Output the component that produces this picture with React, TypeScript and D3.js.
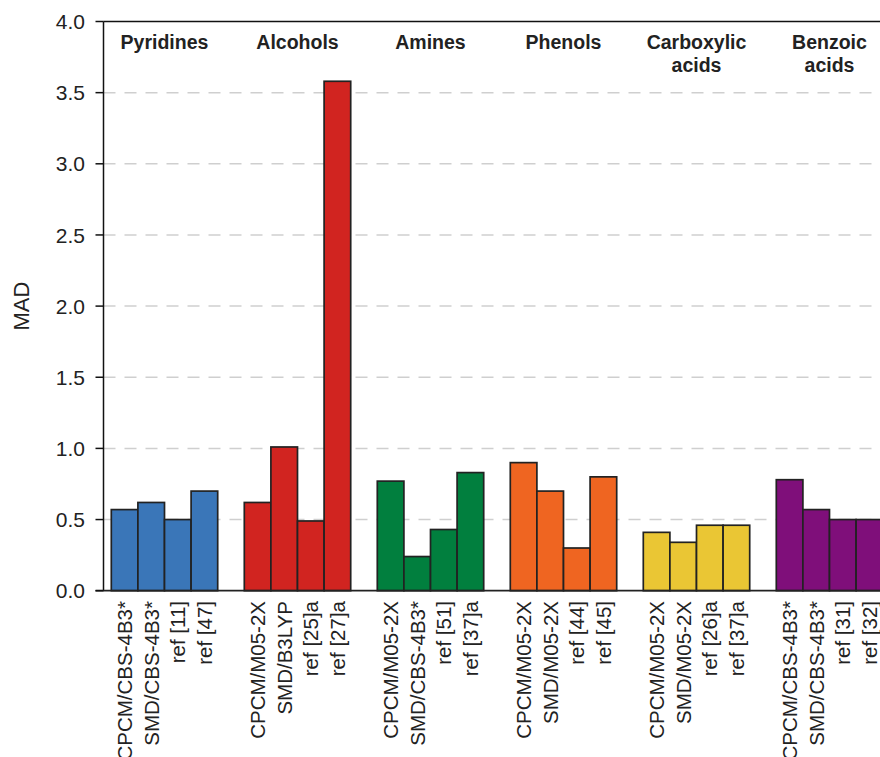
import React from "react";
import * as d3 from "d3";

const groupHeaders: string[][] = [
  ["Pyridines"],
  ["Alcohols"],
  ["Amines"],
  ["Phenols"],
  ["Carboxylic", "acids"],
  ["Benzoic", "acids"],
];

const methodLabels: string[][] = [
  ["CPCM/CBS-4B3*", "SMD/CBS-4B3*", "ref [11]", "ref [47]"],
  ["CPCM/M05-2X", "SMD/B3LYP", "ref [25]a", "ref [27]a"],
  ["CPCM/M05-2X", "SMD/CBS-4B3*", "ref [51]", "ref [37]a"],
  ["CPCM/M05-2X", "SMD/M05-2X", "ref [44]", "ref [45]"],
  ["CPCM/M05-2X", "SMD/M05-2X", "ref [26]a", "ref [37]a"],
  ["CPCM/CBS-4B3*", "SMD/CBS-4B3*", "ref [31]", "ref [32]"],
];

const madValues: number[][] = [
  [0.57, 0.62, 0.5, 0.7],
  [0.62, 1.01, 0.49, 3.58],
  [0.77, 0.24, 0.43, 0.83],
  [0.9, 0.7, 0.3, 0.8],
  [0.41, 0.34, 0.46, 0.46],
  [0.78, 0.57, 0.5, 0.5],
];

const groupColors = ["#3a76b8", "#d12420", "#017f3e", "#ef6521", "#eac634", "#7f0f7a"];

const yTicks = [0, 0.5, 1, 1.5, 2, 2.5, 3, 3.5, 4];

const W = 880;
const H = 757;
const axisX = 103.5;
const yTop = 21.5;
const yBottom = 590.7;
const firstBarX = 111.3;
const unit = 26.6;
const FONT = "'Liberation Sans', Arial, Helvetica, sans-serif";

export default function App() {
  const y = d3.scaleLinear().domain([0, 4]).range([yBottom, yTop]);
  const x = d3
    .scaleLinear()
    .domain([0, 1])
    .range([firstBarX, firstBarX + unit]);

  const bars: { x0: number; x1: number; v: number; color: string; label: string; key: string }[] = [];
  groupHeaders.forEach((_, g) => {
    madValues[g].forEach((v, j) => {
      const slot = g * 5 + j;
      bars.push({
        x0: x(slot),
        x1: x(slot + 1),
        v,
        color: groupColors[g],
        label: methodLabels[g][j],
        key: `${g}-${j}`,
      });
    });
  });

  return (
    <>
      <style>{`body{margin:0}`}</style>
      <svg width={W} height={H} style={{ display: "block", fontFamily: FONT }}>
        <rect x={0} y={0} width={W} height={H} fill="#fff" />
        {yTicks
          .filter((t) => t > 0 && t < 4)
          .map((t) => (
            <line
              key={`g${t}`}
              x1={axisX}
              x2={W}
              y1={y(t)}
              y2={y(t)}
              stroke="#cfcfcf"
              strokeWidth={1.5}
              strokeDasharray="12,9"
            />
          ))}
        {bars.map((b) => (
          <rect
            key={b.key}
            x={b.x0}
            y={y(b.v)}
            width={b.x1 - b.x0}
            height={y(0) - y(b.v)}
            fill={b.color}
            stroke="#222"
            strokeWidth={1.7}
          />
        ))}
        <line x1={axisX} x2={axisX} y1={yTop} y2={yBottom} stroke="#111" strokeWidth={1.5} />
        <line x1={axisX} x2={W} y1={yTop} y2={yTop} stroke="#111" strokeWidth={1.5} />
        <line x1={axisX - 8} x2={W} y1={yBottom} y2={yBottom} stroke="#222" strokeWidth={1.8} />
        {yTicks.map((t) => (
          <g key={`t${t}`}>
            <line x1={axisX - 8} x2={axisX} y1={y(t)} y2={y(t)} stroke="#111" strokeWidth={1.5} />
            <text x={85} y={y(t)} dy="0.36em" textAnchor="end" fontSize={21} fill="#222">
              {t.toFixed(1)}
            </text>
          </g>
        ))}
        <text
          transform={`translate(29,${(yTop + yBottom) / 2}) rotate(-90)`}
          textAnchor="middle"
          fontSize={22}
          fill="#222"
        >
          MAD
        </text>
        {groupHeaders.map((lines, g) => {
          const cx = x(g * 5 + 2);
          return (
            <text key={`h${g}`} textAnchor="middle" fontSize={19.5} fontWeight="bold" fill="#222">
              {lines.map((ln, i) => (
                <tspan key={i} x={cx} y={49.3 + i * 23}>
                  {ln}
                </tspan>
              ))}
            </text>
          );
        })}
        {bars.map((b) => (
          <text
            key={`l${b.key}`}
            transform={`translate(${(b.x0 + b.x1) / 2},601) rotate(-90)`}
            dy="0.36em"
            textAnchor="end"
            fontSize={20.5}
            fill="#222"
          >
            {b.label}
          </text>
        ))}
      </svg>
    </>
  );
}
